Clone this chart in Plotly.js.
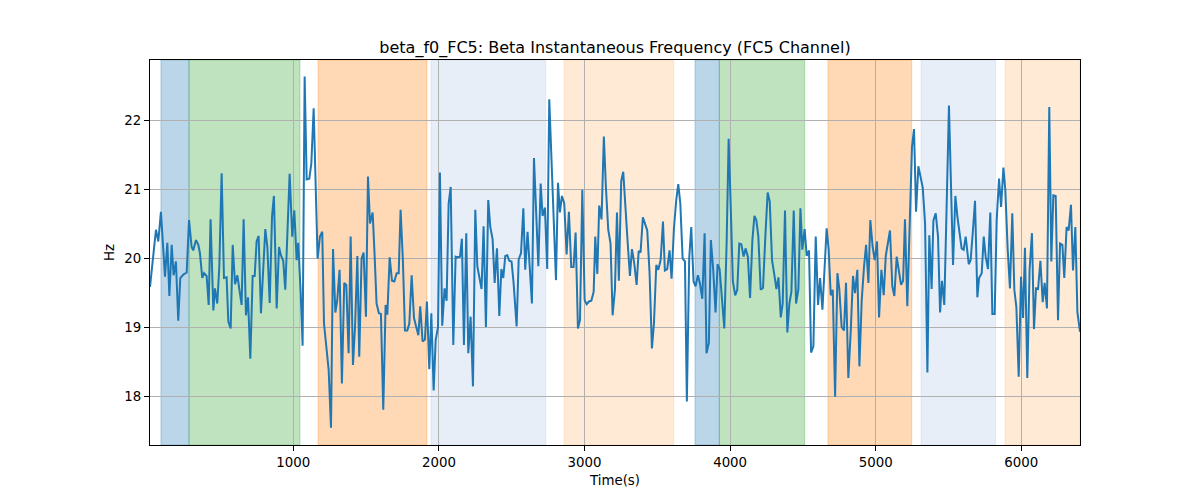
<!DOCTYPE html>
<html>
<head>
<meta charset="utf-8">
<script src="https://cdn.plot.ly/plotly-3.0.1.min.js"></script>
<style>html,body{margin:0;padding:0;background:#fff}#chart{width:1200px;height:500px}</style>
</head>
<body>
<div id="chart"></div>
<script>
// ---- data ----
const timeS = [
16,57,73,91,119,135,149,165,178,194,210,224,245,268,284,302,313,332,348,359,375,387,405,419,432,451,462,478,492,508,524,542,554,570,584,600,616,629,645,659,675,689,705,721,735,748,762,778,794,808,822,838,854,867,886,902,915,931,945,961,975,993,1007,1023,1034,
1051,1064,1078,1092,1110,1124,1140,1167,1183,1199,1211,1229,1243,1259,1273,1289,1302,1318,1334,1350,1364,1380,1394,1410,1424,1440,1453,1469,1483,1499,1513,1527,1545,1559,1572,1588,1602,1618,1634,1646,1662,1678,1694,1710,1724,1737,1753,1767,1783,1797,1813,1829,1843,1859,1872,1888,1904,1918,1934,1948,1964,1978,1994,2007,2023,2039,2053,2067,
2081,2099,2115,2129,2145,2158,2172,2188,2202,2218,2234,2250,2264,2277,2293,2307,2323,2339,2353,2369,2383,2399,2415,2429,2442,2456,2470,2483,2499,2513,2534,2548,2564,2580,2593,2609,2625,2639,2653,2669,2683,2699,2712,2728,2744,2758,2774,2790,2804,2818,2831,2845,2861,2877,2893,2909,2925,2939,2955,2969,2985,3001,3015,3031,3047,3063,3074,3088,3101,
3117,3133,3147,3163,3179,3193,3209,3223,3236,3252,3266,3282,3296,3312,3326,3342,3358,3372,3385,3401,3415,3431,3447,3463,3477,3493,3507,3523,3539,3552,3568,3584,3598,3614,3630,3644,3658,3674,3690,3703,3719,3733,3749,3763,3779,3793,3809,3825,3838,3854,3868,3884,3900,3914,3928,3944,3960,3976,3990,4006,4019,4035,4049,4063,4077,4093,4106,4122,
4137,4153,4167,4180,4194,4210,4226,4242,4258,4272,4288,4302,4318,4332,4348,4361,4377,4393,4407,4421,4437,4453,4469,4483,4496,4512,4526,4542,4556,4572,4588,4604,4618,4634,4647,4663,4677,4691,4705,4721,4737,4750,4766,4782,4796,4812,4828,4844,4858,4874,4888,4904,4920,4934,4950,4963,4979,4993,5009,5023,5039,5055,5069,5085,5098,5114,5128,5144,5160,
5174,5188,5201,5217,5233,5249,5263,5277,5293,5307,5323,5339,5355,5368,5384,5396,5412,5428,5442,5455,5471,5487,5503,5531,5547,5561,5574,5590,5604,5618,5639,5652,5668,5682,5698,5710,5728,5742,5755,5771,5787,5801,5817,5831,5847,5861,5877,5890,5906,5922,5938,5952,5966,5982,5998,6012,6025,6041,6057,6073,6087,6101,6115,6131,6147,6160,6176,6192,6206,6220,6236,6252,6266,6282,6295,6311,6325,6341,6355,6371,6385,6403
];
const betaHz = [
19.58,20.41,20.24,20.67,19.73,20.22,19.45,20.19,19.75,19.95,19.09,19.71,19.76,19.79,20.55,20.16,20.11,20.26,20.19,20.07,19.71,19.78,19.74,19.32,20.56,19.24,19.56,19.34,19.87,21.23,19.71,19.72,19.08,18.98,20.19,19.62,19.75,19.54,19.32,20.56,19.17,19.43,18.54,19.74,19.74,20.24,20.32,19.20,19.78,20.42,20.16,19.35,20.60,20.90,19.27,20.16,20.04,19.96,19.54,20.36,21.22,20.31,20.69,19.97,20.22,
19.49,18.73,22.63,21.14,21.15,21.37,22.17,19.99,20.31,20.38,19.05,18.72,18.38,17.54,20.13,19.21,19.39,19.83,18.18,19.64,19.61,18.62,20.31,18.45,19.00,20.03,18.57,19.99,20.08,19.15,21.18,20.50,20.66,20.02,19.34,19.20,19.19,17.80,19.32,19.18,20.01,19.67,19.66,19.78,19.78,20.70,19.95,18.95,18.95,19.05,19.75,19.13,19.00,18.88,19.30,18.79,18.82,19.37,18.39,19.20,18.08,18.81,19.00,21.24,19.02,19.56,19.38,20.79,
21.03,18.74,20.02,20.01,20.02,20.28,18.74,20.36,18.62,19.15,18.14,20.70,19.88,19.71,19.55,20.46,19.00,20.84,20.45,20.27,19.64,20.14,19.16,19.84,19.71,20.03,20.04,19.96,19.95,19.64,19.01,19.98,20.07,20.72,19.83,20.38,19.78,19.34,21.45,20.60,19.88,21.08,20.61,20.73,19.84,22.30,21.40,20.60,19.68,21.09,20.66,20.90,20.79,20.05,20.67,19.87,19.87,20.37,18.98,19.10,20.99,19.39,19.33,19.37,19.38,19.51,20.31,19.77,20.76,
20.56,21.76,21.03,20.41,20.21,19.17,19.54,20.66,19.67,21.11,21.25,20.65,20.24,19.74,20.13,19.92,19.61,20.10,20.08,20.59,20.49,20.40,19.78,18.69,19.05,19.90,19.83,19.97,20.53,19.82,19.84,20.11,19.70,20.42,20.84,21.07,20.79,19.99,19.95,17.92,19.99,20.45,19.66,19.59,19.75,19.63,19.41,20.36,18.62,18.77,20.26,19.83,19.21,19.91,19.84,19.39,18.98,20.21,21.73,20.62,19.66,19.46,19.54,20.21,20.20,20.02,20.14,20.02,
19.42,20.26,20.61,20.55,20.31,19.54,19.57,20.31,20.95,20.82,19.97,19.78,19.55,19.72,19.14,19.34,20.69,18.92,19.34,19.51,20.69,19.34,19.55,20.72,20.12,20.42,20.03,20.11,18.63,18.72,20.31,19.32,19.71,19.25,19.85,20.43,20.12,19.46,19.54,17.99,19.78,19.55,19.00,18.95,19.64,18.26,18.92,19.74,19.49,19.83,18.43,19.39,19.88,20.19,19.64,20.55,20.16,19.97,20.24,19.14,19.83,19.46,20.03,20.26,20.40,19.59,19.45,20.02,19.83,
19.61,19.67,20.56,19.30,20.60,21.61,21.87,20.67,21.33,21.18,21.02,20.50,18.34,20.33,19.55,20.54,20.65,20.31,19.21,19.67,19.32,20.74,22.21,19.90,20.90,20.60,20.36,20.14,20.12,20.31,19.91,19.97,20.41,20.83,19.43,19.71,19.78,20.31,20.02,19.84,20.66,19.19,19.19,20.56,21.15,20.74,21.31,20.99,20.14,19.56,20.65,19.54,19.29,18.28,19.73,19.13,20.15,18.26,19.84,20.36,18.97,19.56,19.55,19.96,19.36,19.64,19.27,22.19,19.95,20.91,20.90,19.10,20.21,20.19,19.71,20.45,20.40,20.77,19.82,20.45,19.22,18.93
];
// shaded intervals (time, s)
const spanStart = [91, 284, 1170, 1946, 2860, 3759, 3926, 4672, 5311, 5888];
const spanEnd   = [284, 1046, 1918, 2734, 3613, 3926, 4512, 5247, 5824, 6403];
const spanKind  = ['a', 'b', 'c', 'd', 'e', 'a', 'b', 'c', 'd', 'e'];
const xTicks = [1000, 2000, 3000, 4000, 5000, 6000];
const yTicks = [18, 19, 20, 21, 22];

// ---- styles ----
const kindColor = {
  a: 'rgba(31,119,180,0.3)',
  b: 'rgba(44,160,44,0.3)',
  c: 'rgba(255,127,14,0.3)',
  d: 'rgba(174,199,232,0.3)',
  e: 'rgba(255,187,120,0.3)'
};

const shapes = spanStart.map((s, i) => ({
  type: 'rect', xref: 'x', yref: 'paper',
  x0: s, x1: spanEnd[i], y0: 0, y1: 1,
  fillcolor: kindColor[spanKind[i]],
  line: {width: 1, color: kindColor[spanKind[i]]},
  layer: 'below'
}));

const font = {family: 'DejaVu Sans, sans-serif', size: 13.33, color: '#000'};

const trace = {
  x: timeS, y: betaHz, type: 'scatter', mode: 'lines',
  line: {color: '#1f77b4', width: 2},
  hoverinfo: 'skip'
};

const layout = {
  width: 1200, height: 500,
  margin: {l: 150, r: 120, t: 60, b: 55},
  paper_bgcolor: '#fff', plot_bgcolor: 'rgba(0,0,0,0)',
  font: font,
  showlegend: false,
  title: {
    text: 'beta_f0_FC5: Beta Instantaneous Frequency (FC5 Channel)',
    font: {family: 'DejaVu Sans, sans-serif', size: 16, color: '#000'},
    x: 0.5, xref: 'paper', xanchor: 'center',
    y: 1, yref: 'paper', yanchor: 'bottom', pad: {b: 7}
  },
  xaxis: {
    range: [16, 6403], tickvals: xTicks, ticktext: xTicks.map(String),
    showgrid: true, gridcolor: '#b0b0b0', gridwidth: 1,
    zeroline: false, showline: true, linecolor: '#000', linewidth: 1, mirror: true,
    ticks: 'outside', ticklen: 5, tickcolor: '#000', tickwidth: 1,
    tickfont: font,
    title: {text: 'Time(s)', font: font, standoff: 6}
  },
  yaxis: {
    range: [17.29, 22.87], tickvals: yTicks, ticktext: yTicks.map(String),
    showgrid: true, gridcolor: '#b0b0b0', gridwidth: 1,
    zeroline: false, showline: true, linecolor: '#000', linewidth: 1, mirror: true,
    ticks: 'outside', ticklen: 5, tickcolor: '#000', tickwidth: 1,
    tickfont: font,
    title: {text: 'Hz', font: font, standoff: 6}
  },
  shapes: shapes
};

Plotly.newPlot('chart', [trace], layout, {displayModeBar: false, staticPlot: true});
</script>
</body>
</html>
